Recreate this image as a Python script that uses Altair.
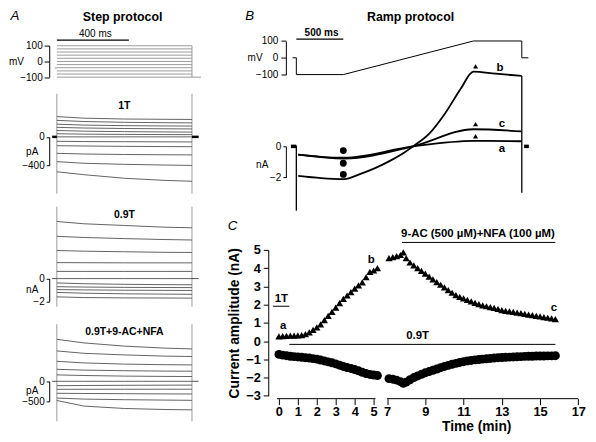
import altair as alt
import pandas as pd

S = 0.955


def px(v):
    return round(v * S, 2)


FONT = "Liberation Sans"
TRACE = "#3c3c3c"
GREY = "#8f8f8f"
NOVIEW = alt.ViewBackground(stroke="transparent", strokeWidth=0, fill="transparent")

# ---------------- Panel A : step protocol ----------------
A_STEP_MV = [100, 80, 60, 40, 20, 0, -20, -40, -60, -80, -100]
A_STEP_MS = [0, 750]
A_TAIL_MS = [750, 800]
A_TAIL_MV = -100
A_HOLD_MS = [-12, 0]
A_HOLD_MV = -42
A_BAR_MS = [0, 400]

A_T = [0, 150, 375, 600, 750]
A_1T_PA = [
    [284, 262, 250, 246, 244],
    [231, 215, 204, 198, 196],
    [178, 165, 157, 153, 151],
    [133, 124, 117, 113, 111],
    [89, 80, 73, 69, 67],
    [44, 38, 34, 32, 31],
    [0, 0, 0, 0, 0],
    [-62, -66, -68, -70, -71],
    [-124, -128, -133, -136, -138],
    [-231, -240, -247, -251, -253],
    [-347, -370, -385, -395, -400],
    [-489, -530, -580, -610, -622],
]
A_09T_NA = [
    [5.0, 4.8, 4.65, 4.5, 4.45],
    [3.7, 3.6, 3.5, 3.42, 3.38],
    [2.46, 2.4, 2.35, 2.3, 2.29],
    [1.4, 1.39, 1.38, 1.38, 1.38],
    [0.63, 0.63, 0.63, 0.63, 0.63],
    [0, 0, 0, 0, 0],
    [-0.38, -0.45, -0.5, -0.53, -0.54],
    [-0.71, -0.74, -0.77, -0.78, -0.79],
    [-0.96, -0.99, -1.02, -1.03, -1.04],
    [-1.21, -1.28, -1.33, -1.36, -1.38],
    [-1.6, -1.66, -1.69, -1.7, -1.71],
]
A_DRUG_PA = [
    [1050, 960, 880, 830, 810],
    [760, 700, 660, 630, 620],
    [500, 460, 430, 415, 410],
    [300, 280, 265, 255, 253],
    [160, 145, 130, 122, 120],
    [0, 0, 0, 0, 0],
    [-110, -105, -100, -97, -95],
    [-200, -200, -199, -198, -198],
    [-300, -305, -310, -315, -317],
    [-420, -445, -460, -470, -476],
    [-480, -620, -680, -705, -714],
]
A_CAP_MS = [0, 750]
A_1T_CAP = [604, -796]
A_09T_CAP = [6.3, -2.46]
A_DRUG_CAP = [1428, -1000]
A_ZERO_LEFT = [-26, 0]
A_ZERO_RIGHT = [750, 787]

# ---------------- Panel B : ramp protocol ----------------
B_V_MS = [-40, 0, 0, 500, 1885, 2400, 2400, 2470]
B_V_MV = [0, 0, -100, -100, 100, 100, 0, 0]
B_BAR_MS = [0, 500]

B_B_MS = [20, 263, 510, 669, 838, 1006, 1142, 1243, 1412, 1581, 1750, 1885, 2121, 2400]
B_B_NA = [-1.90, -2.04, -2.10, -1.80, -1.40, -0.90, -0.42, 0.0, 0.80, 2.10, 3.70, 4.80, 4.67, 4.53]
B_AC_MS = [20, 263, 510, 1243, 1885, 2400]
B_A_NA = [-0.53, -0.67, -0.73, 0.0, 0.35, 0.33]
B_C_NA = [-0.53, -0.69, -0.78, 0.0, 1.10, 0.96]
B_DOT_MS = 500
B_DOT_NA = [-0.27, -1.08, -1.80]
B_TRI_MS = 1908
B_TRI_NA = [5.14, 1.43, 0.65]
B_CAP_LEFT = [0.04, -4.14]
B_CAP_RIGHT = [4.53, -2.98]
B_ZERO_LEFT = [-58, 0]
B_ZERO_RIGHT = [2425, 2475]

# ---------------- Panel C : time course ----------------
C_T_LEFT = [0.0, 0.2, 0.4, 0.6, 0.8, 1.0, 1.2, 1.4, 1.6, 1.8, 2.0, 2.2, 2.4, 2.6,
            2.8, 3.0, 3.2, 3.4, 3.6, 3.8, 4.0, 4.2, 4.4, 4.6, 4.8, 5.0, 5.2]
C_TRI_LEFT = [0.26, 0.27, 0.29, 0.30, 0.30, 0.31, 0.33, 0.38, 0.48, 0.62, 0.75, 0.92, 1.15, 1.38,
              1.60, 1.84, 2.08, 2.32, 2.50, 2.68, 2.88, 3.05, 3.22, 3.50, 3.80, 3.87, 4.00]
C_CIR_LEFT = [-0.73, -0.77, -0.80, -0.83, -0.85, -0.87, -0.89, -0.91, -0.93, -0.96, -0.99, -1.04,
              -1.09, -1.14, -1.19, -1.25, -1.32, -1.39, -1.45, -1.50, -1.56, -1.63, -1.71, -1.78,
              -1.83, -1.86, -1.89]
C_T_RIGHT = [7.1, 7.3, 7.5, 7.7, 7.85, 8.0, 8.2, 8.4, 8.6, 8.8, 9.0, 9.2, 9.4, 9.6, 9.8, 10.0,
             10.2, 10.4, 10.6, 10.8, 11.0, 11.2, 11.4, 11.6, 11.8, 12.0, 12.2, 12.4, 12.6, 12.8,
             13.0, 13.2, 13.4, 13.6, 13.8, 14.0, 14.2, 14.4, 14.6, 14.8, 15.0, 15.2, 15.4, 15.6, 15.8]
C_TRI_RIGHT = [4.55, 4.60, 4.66, 4.72, 4.86, 4.55, 4.31, 4.15, 4.00, 3.85, 3.70, 3.54, 3.38, 3.23,
               3.09, 2.95, 2.80, 2.65, 2.52, 2.42, 2.34, 2.26, 2.18, 2.10, 2.03, 1.96, 1.91, 1.86,
               1.82, 1.76, 1.70, 1.66, 1.63, 1.60, 1.56, 1.53, 1.49, 1.45, 1.42, 1.38, 1.35, 1.31,
               1.28, 1.24, 1.20]
C_CIR_RIGHT = [-2.06, -2.09, -2.14, -2.22, -2.32, -2.25, -2.12, -2.00, -1.91, -1.82, -1.74, -1.67,
               -1.60, -1.53, -1.46, -1.39, -1.33, -1.27, -1.22, -1.17, -1.13, -1.09, -1.06, -1.03,
               -1.01, -0.99, -0.97, -0.95, -0.93, -0.91, -0.90, -0.89, -0.88, -0.87, -0.86, -0.85,
               -0.84, -0.83, -0.83, -0.82, -0.82, -0.82, -0.81, -0.81, -0.80]
C_X_TICKS = [0, 1, 2, 3, 4, 5, 7, 9, 11, 13, 15, 17]
C_Y_TICKS = [-3, -2, -1, 0, 1, 2, 3, 4, 5]
C_AXIS_SEGMENTS = [[-0.1, 5.1], [7.0, 17.0]]
C_BARS = [["1T", -0.32, 0.55, 1.91], ["0.9T", 0.55, 15.8, -0.18],
          ["9-AC (500 µM)+NFA (100 µM)", 7.78, 15.8, 5.41]]
C_LABELS = [["a", 0.22, 0.83], ["b", 4.87, 4.44], ["c", 15.73, 1.79], ["1T", 0.13, 2.31],
            ["0.9T", 8.6, 0.3], ["9-AC (500 µM)+NFA (100 µM)", 11.75, 5.87]]


# ---------------- helpers ----------------
def traces_df(times, traces):
    rows = []
    for k, tr in enumerate(traces):
        for t, v in zip(times, tr):
            rows.append({"t": t, "v": v, "k": k})
    return pd.DataFrame(rows)


def enc(xs, ys, axis):
    return dict(
        x=alt.X("t:Q", scale=xs, axis=None),
        y=alt.Y("v:Q", scale=ys, axis=axis),
    )


def rules(df, xs, ys, axis, color, width, vertical=False):
    e = enc(xs, ys, axis)
    if vertical:
        e["y2"] = alt.Y2("v2:Q")
    else:
        e["x2"] = alt.X2("t2:Q")
    return alt.Chart(df).mark_rule(color=color, strokeWidth=width).encode(**e)


def texts(df, xs, ys, axis, size, weight="bold", style="normal"):
    return alt.Chart(df).mark_text(
        font=FONT, fontSize=size, fontWeight=weight, fontStyle=style,
        align="center", baseline="middle", color="black"
    ).encode(text="s:N", **enc(xs, ys, axis))


def left_axis(values, title, tx, ty, tick, offset, pad=2):
    return alt.Axis(
        values=values, offset=offset, tickSize=tick, labelPadding=pad,
        title=title, titleAngle=0, titleAlign="right", titleBaseline="middle",
        titleX=tx, titleY=ty, titleFontWeight="normal", titleFontSize=px(10.5),
        labelFontSize=px(10.5), domainColor="black", tickColor="black",
        labelColor="black", titleColor="black", grid=False, labelFlush=False,
        labelOverlap=False, domainWidth=1, tickWidth=1,
    )


# ---------------- Panel A charts ----------------
XA = alt.Scale(domain=[0, 750], range=[0, px(142)], nice=False, zero=False)
A_W = px(142)

ys_av = alt.Scale(domain=[-100, 100], range=[px(52), px(19)], nice=False, zero=False)
ax_av = left_axis([100, 0, -100], "mV", px(13 - 40), px(36), 5, px(8))
steps = pd.DataFrame({"t": A_STEP_MS[0], "t2": A_STEP_MS[1], "v": A_STEP_MV})
a_v = alt.layer(
    rules(steps, XA, ys_av, ax_av, GREY, 0.9),
    rules(pd.DataFrame({"t": [A_STEP_MS[1]], "v": [min(A_STEP_MV)], "v2": [max(A_STEP_MV)]}),
          XA, ys_av, ax_av, GREY, 0.9, vertical=True),
    rules(pd.DataFrame({"t": [A_TAIL_MS[0]], "t2": [A_TAIL_MS[1]], "v": [A_TAIL_MV]}),
          XA, ys_av, ax_av, GREY, 0.9),
    rules(pd.DataFrame({"t": [A_HOLD_MS[0]], "t2": [A_HOLD_MS[1]], "v": [A_HOLD_MV]}),
          XA, ys_av, ax_av, GREY, 0.9),
    rules(pd.DataFrame({"t": [A_BAR_MS[0]], "t2": [A_BAR_MS[1]], "v": [136]}),
          XA, ys_av, ax_av, "black", 1.4),
    texts(pd.DataFrame({"t": [214], "v": [176], "s": ["400 ms"]}), XA, ys_av, ax_av,
          px(10.5), weight="normal"),
    texts(pd.DataFrame({"t": [-232], "v": [288], "s": ["A"]}), XA, ys_av, ax_av,
          px(14), weight="normal", style="italic"),
    texts(pd.DataFrame({"t": [365], "v": [282], "s": ["Step protocol"]}), XA, ys_av, ax_av,
          px(13)),
).properties(width=A_W, height=px(60), view=NOVIEW)


def a_current(traces, cap, dom, rng, height, values, title, title_y, label, label_v,
              zero_w):
    ys = alt.Scale(domain=dom, range=rng, nice=False, zero=False)
    ax = left_axis(values, title, px(28 - 40), px(title_y), 3, px(8))
    cap_df = pd.DataFrame({"t": A_CAP_MS, "v": [cap[1]] * 2, "v2": [cap[0]] * 2})
    zero_df = pd.DataFrame({"t": [A_ZERO_LEFT[0], A_ZERO_RIGHT[0]],
                            "t2": [A_ZERO_LEFT[1], A_ZERO_RIGHT[1]], "v": [0, 0]})
    zero_layer = (rules(zero_df, XA, ys, ax, "black", zero_w) if zero_w
                  else rules(zero_df, XA, ys, ax, TRACE, 0.9))
    return alt.layer(
        rules(cap_df, XA, ys, ax, GREY, 0.9, vertical=True),
        alt.Chart(traces_df(A_T, traces)).mark_line(color=TRACE, strokeWidth=0.8).encode(
            detail="k:N", **enc(XA, ys, ax)),
        zero_layer,
        texts(pd.DataFrame({"t": [375], "v": [label_v], "s": [label]}), XA, ys, ax, px(11)),
    ).properties(width=A_W, height=px(height), view=NOVIEW)


a_1t = a_current(A_1T_PA, A_1T_CAP, [-400, 0], [px(84), px(54)], 120, [0, -400], "pA", 69,
                 "1T", 427, 2.5)
a_09 = a_current(A_09T_NA, A_09T_CAP, [-2, 0], [px(106.5), px(82.5)], 120, [0, -2], "nA", 94,
                 "0.9T", 5.6, 0)
a_dr = a_current(A_DRUG_PA, A_DRUG_CAP, [-500, 0], [px(91), px(70)], 115, [0, -500], "pA", 80,
                 "0.9T+9-AC+NFA", 1238, 0)

col_a = alt.vconcat(a_v, a_1t, a_09, a_dr, spacing=0, bounds="flush")

# ---------------- Panel B charts ----------------
B_PX_MS = 0.0987
XB = alt.Scale(domain=[0, 2400], range=[px(11), px(11 + 2400 * B_PX_MS)], nice=False, zero=False)
B_W = px(260)

ys_bv = alt.Scale(domain=[-100, 100], range=[px(49.3), px(14)], nice=False, zero=False)
ax_bv = left_axis([100, 0, -100], "mV", px(-25), px(31.7), 5, 0, pad=3)
bv_df = pd.DataFrame({"t": B_V_MS, "v": B_V_MV, "i": list(range(len(B_V_MS)))})
b_v = alt.layer(
    alt.Chart(bv_df).mark_line(color="black", strokeWidth=1).encode(
        order="i:Q", **enc(XB, ys_bv, ax_bv)),
    rules(pd.DataFrame({"t": [B_BAR_MS[0]], "t2": [B_BAR_MS[1]], "v": [111]}),
          XB, ys_bv, ax_bv, "black", 1.4),
    texts(pd.DataFrame({"t": [268], "v": [145], "s": ["500 ms"]}), XB, ys_bv, ax_bv, px(10.5)),
    texts(pd.DataFrame({"t": [-496], "v": [247], "s": ["B"]}), XB, ys_bv, ax_bv,
          px(14), weight="normal", style="italic"),
    texts(pd.DataFrame({"t": [1216], "v": [242], "s": ["Ramp protocol"]}), XB, ys_bv, ax_bv,
          px(13)),
).properties(width=B_W, height=px(60), view=NOVIEW)

ys_bi = alt.Scale(domain=[-2, 0], range=[px(96.7), px(64)], nice=False, zero=False)
ax_bi = left_axis([0, -2], "nA", px(-19), px(83), 3, 0, pad=2)
bi_traces = pd.concat([
    pd.DataFrame({"t": B_B_MS, "v": B_B_NA, "k": "b"}),
    pd.DataFrame({"t": B_AC_MS, "v": B_A_NA, "k": "a"}),
    pd.DataFrame({"t": B_AC_MS, "v": B_C_NA, "k": "c"}),
])
b_i = alt.layer(
    rules(pd.DataFrame({"t": [0, 2400], "v": [B_CAP_LEFT[1], B_CAP_RIGHT[1]],
                        "v2": [B_CAP_LEFT[0], B_CAP_RIGHT[0]]}),
          XB, ys_bi, ax_bi, "black", 1.3, vertical=True),
    alt.Chart(bi_traces).mark_line(color="black", strokeWidth=1.8, interpolate="monotone").encode(
        detail="k:N", **enc(XB, ys_bi, ax_bi)),
    rules(pd.DataFrame({"t": [B_ZERO_LEFT[0], B_ZERO_RIGHT[0]],
                        "t2": [B_ZERO_LEFT[1], B_ZERO_RIGHT[1]], "v": [0, 0]}),
          XB, ys_bi, ax_bi, "black", 3.5),
    alt.Chart(pd.DataFrame({"t": [B_DOT_MS] * 3, "v": B_DOT_NA})).mark_circle(
        color="black", size=48, opacity=1).encode(**enc(XB, ys_bi, ax_bi)),
    alt.Chart(pd.DataFrame({"t": [B_TRI_MS] * 3, "v": B_TRI_NA})).mark_point(
        shape="triangle-up", filled=True, color="black", size=26, opacity=1).encode(
        **enc(XB, ys_bi, ax_bi)),
    texts(pd.DataFrame({"t": [2168, 2188, 2188], "v": [5.02, 1.41, -0.18],
                        "s": ["b", "c", "a"]}), XB, ys_bi, ax_bi, px(12)),
).properties(width=B_W, height=px(135), view=NOVIEW)

# ---------------- Panel C chart ----------------
XC = alt.Scale(domain=[-0.1, 5.3, 6.9, 17],
               range=[px(-9.3), px(98.2), px(104.3), px(307.3)], nice=False, zero=False)
YC = alt.Scale(domain=[-3, 5], range=[px(191), px(37.7)], nice=False, zero=False)
c_xaxis = alt.Axis(values=C_X_TICKS, domain=False, tickSize=6, tickColor="black", tickWidth=1,
                   labelPadding=1, labelFontSize=px(13.5), labelFontWeight="bold",
                   labelColor="black", labelFlush=False, labelOverlap=False, grid=False,
                   title="Time (min)", titleFontSize=px(14.5), titleFontWeight="bold",
                   titleColor="black", titleX=px(200), titlePadding=1, format="d")
c_yaxis = alt.Axis(values=C_Y_TICKS, offset=px(18.5), tickSize=5, tickColor="black",
                   domainColor="black", domainWidth=1, tickWidth=1, labelPadding=3,
                   labelFontSize=px(13.5), labelFontWeight="bold", labelColor="black",
                   labelFlush=False, labelOverlap=False, grid=False,
                   title="Current amplitude (nA)", titleFontSize=px(14.5),
                   titleFontWeight="bold", titleColor="black", titlePadding=4, format="d")


def cenc():
    return dict(x=alt.X("t:Q", scale=XC, axis=c_xaxis), y=alt.Y("v:Q", scale=YC, axis=c_yaxis))


tri_df = pd.DataFrame({"t": C_T_LEFT + C_T_RIGHT, "v": C_TRI_LEFT + C_TRI_RIGHT})
cir_df = pd.DataFrame({"t": C_T_LEFT + C_T_RIGHT, "v": C_CIR_LEFT + C_CIR_RIGHT})
bars_df = pd.DataFrame(C_BARS, columns=["s", "t", "t2", "v"])
labels_df = pd.DataFrame(C_LABELS, columns=["s", "t", "v"])
seg_df = pd.DataFrame(C_AXIS_SEGMENTS, columns=["t", "t2"])

c_chart = alt.layer(
    alt.Chart(seg_df).mark_rule(color="black", strokeWidth=1).encode(
        x=alt.X("t:Q", scale=XC, axis=c_xaxis), x2="t2:Q", y=alt.value("height")),
    alt.Chart(bars_df).mark_rule(color="black", strokeWidth=1).encode(x2="t2:Q", **cenc()),
    alt.Chart(cir_df).mark_circle(color="black", size=80, opacity=1).encode(**cenc()),
    alt.Chart(tri_df).mark_point(shape="triangle-up", filled=True, color="black", size=52,
                                 opacity=1).encode(**cenc()),
    alt.Chart(labels_df).mark_text(font=FONT, fontSize=px(12), fontWeight="bold",
                                   align="center", baseline="middle", color="black").encode(
        text="s:N", **cenc()),
    alt.Chart(pd.DataFrame({"t": [-2.45], "v": [6.33], "s": ["C"]})).mark_text(
        font=FONT, fontSize=px(14), fontStyle="italic", align="center", baseline="middle",
        color="black").encode(text="s:N", **cenc()),
).properties(width=px(307.3), height=px(194), view=NOVIEW)

col_r = alt.vconcat(b_v, b_i, c_chart, spacing=0, bounds="flush")

chart = (
    alt.hconcat(col_a, col_r, spacing=px(26))
    .properties(padding=0)
    .configure_view(stroke="transparent", strokeWidth=0)
    .configure_axis(grid=False)
    .configure(font=FONT)
)

chart.save("out.html", embed_options={"renderer": "svg", "actions": False})
